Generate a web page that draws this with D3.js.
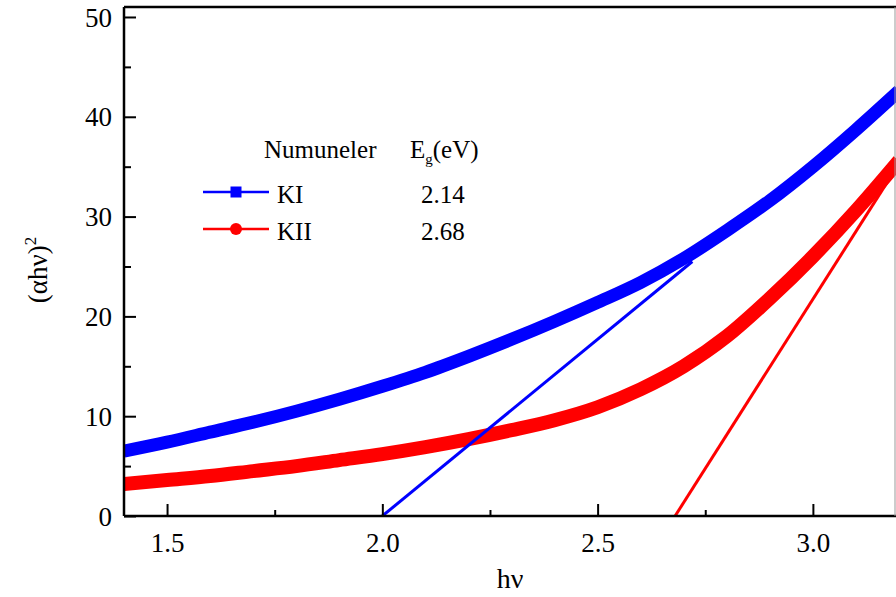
<!DOCTYPE html>
<html>
<head>
<meta charset="utf-8">
<script src="https://cdn.jsdelivr.net/npm/d3@7"></script>
<style>
  html, body { margin: 0; padding: 0; background: #fff; }
  svg { display: block; }
  svg text { font-family: "Liberation Serif", "Tinos", "DejaVu Serif", serif !important; fill: #000; }
</style>
</head>
<body>
<svg id="chart" width="896" height="597"></svg>
<script>
// ---- data ----
const hv = [1.40, 1.50, 1.60, 1.70, 1.80, 1.90, 2.00, 2.10, 2.20, 2.30, 2.40, 2.50, 2.60, 2.70, 2.80, 2.90, 3.00, 3.10, 3.20];
const kiValues  = [6.5, 7.4, 8.4, 9.4, 10.5, 11.7, 13.0, 14.4, 16.0, 17.7, 19.5, 21.4, 23.4, 25.8, 28.6, 31.6, 35.0, 38.7, 42.6];
const kiiValues = [3.2, 3.6, 4.0, 4.5, 5.0, 5.6, 6.2, 6.9, 7.7, 8.6, 9.6, 10.9, 12.7, 15.0, 18.0, 21.8, 26.0, 30.6, 35.6];
const kiFitX = [2.00, 2.72];
const kiFitY = [0, 25.5];
const kiiFitX = [2.68, 3.20];
const kiiFitY = [0, 35.3];
const seriesNames = ["KI", "KII"];
const bandGaps = ["2.14", "2.68"];
const xTicks = [1.5, 2.0, 2.5, 3.0];
const xMinorTicks = [1.75, 2.25, 2.75];
const yTicks = [0, 10, 20, 30, 40, 50];
const yMinorTicks = [5, 15, 25, 35, 45];

// ---- layout ----
const svg = d3.select("#chart");
const pL = 124, pR = 899, pT = 7, pB = 516;
const x = d3.scaleLinear().domain([1.4, 3.2]).range([pL, pR]);
const y = d3.scaleLinear().domain([0, 51]).range([pB, pT]);
const blue = "#0000ff", red = "#ff0000";
const FF = '"Liberation Serif", "Tinos", "DejaVu Serif", serif';

svg.append("defs").append("clipPath").attr("id", "clip")
  .append("rect").attr("x", pL).attr("y", pT).attr("width", pR - pL).attr("height", pB - pT);

const plot = svg.append("g").attr("clip-path", "url(#clip)");
const line = d3.line().x(d => x(d[0])).y(d => y(d[1])).curve(d3.curveMonotoneX);
const straight = d3.line().x(d => x(d[0])).y(d => y(d[1]));

// data bands
plot.append("path").datum(hv.map((h, i) => [h, kiiValues[i]]))
  .attr("d", line).attr("fill", "none").attr("stroke", red).attr("stroke-width", 14);
plot.append("path").datum(hv.map((h, i) => [h, kiValues[i]]))
  .attr("d", line).attr("fill", "none").attr("stroke", blue).attr("stroke-width", 13);

// tangent fits
plot.append("path").datum(kiFitX.map((h, i) => [h, kiFitY[i]]))
  .attr("d", straight).attr("fill", "none").attr("stroke", blue).attr("stroke-width", 3);
plot.append("path").datum(kiiFitX.map((h, i) => [h, kiiFitY[i]]))
  .attr("d", straight).attr("fill", "none").attr("stroke", red).attr("stroke-width", 3);

// axes
const gx = svg.append("g").attr("transform", `translate(0,${pB})`)
  .call(d3.axisBottom(x).tickValues(xTicks).tickSize(-12).tickFormat(d3.format(".1f")));
const gxMinor = svg.append("g").attr("transform", `translate(0,${pB})`)
  .call(d3.axisBottom(x).tickValues(xMinorTicks).tickSize(-6).tickFormat(""));
const gy = svg.append("g").attr("transform", `translate(${pL},0)`)
  .call(d3.axisLeft(y).tickValues(yTicks).tickSize(-12).tickFormat(d3.format("d")));
const gyMinor = svg.append("g").attr("transform", `translate(${pL},0)`)
  .call(d3.axisLeft(y).tickValues(yMinorTicks).tickSize(-7).tickFormat(""));

[gx, gxMinor, gy, gyMinor].forEach(g => {
  g.attr("font-family", FF);
  g.select(".domain").remove();
  g.selectAll(".tick line").attr("stroke", "#000").attr("stroke-width", 2);
});
gx.selectAll(".tick text").attr("font-size", 27).style("font-family", FF)
  .attr("y", 36).attr("dy", 0);
gy.selectAll(".tick text").attr("font-size", 27).style("font-family", FF)
  .attr("x", -12).attr("dy", "0.34em");

// frame lines
svg.append("line").attr("x1", pL).attr("x2", pR).attr("y1", pB).attr("y2", pB)
  .attr("stroke", "#000").attr("stroke-width", 2.5);
svg.append("line").attr("x1", pL).attr("x2", pL).attr("y1", pT).attr("y2", pB)
  .attr("stroke", "#000").attr("stroke-width", 2.5);
svg.append("line").attr("x1", pL).attr("x2", pR).attr("y1", pT).attr("y2", pT)
  .attr("stroke", "#000").attr("stroke-width", 2.5);
svg.append("line").attr("x1", 895).attr("x2", 895).attr("y1", pT).attr("y2", pB)
  .attr("stroke", "#999").attr("stroke-width", 1);

// axis titles
svg.append("text").attr("x", (pL + 896) / 2).attr("y", 588).attr("text-anchor", "middle")
  .style("font-family", FF).attr("font-size", 28).text("hν");
const yt = svg.append("text").attr("transform", `translate(47,270) rotate(-90)`)
  .attr("text-anchor", "middle").style("font-family", FF).attr("font-size", 27);
yt.append("tspan").text("(αhν)");
yt.append("tspan").attr("font-size", 17).attr("dy", -11).text("2");

// legend
const lg = svg.append("g");
lg.append("text").attr("x", 264).attr("y", 158).style("font-family", FF).attr("font-size", 25).text("Numuneler");
const eg = lg.append("text").attr("x", 410).attr("y", 158).style("font-family", FF).attr("font-size", 25);
eg.append("tspan").text("E");
eg.append("tspan").attr("font-size", 15).attr("dy", 6).text("g");
eg.append("tspan").attr("dy", -6).text("(eV)");

const legendRows = [
  { name: seriesNames[0], eg: bandGaps[0], color: blue, shape: "square", ly: 192 },
  { name: seriesNames[1], eg: bandGaps[1], color: red, shape: "circle", ly: 229 }
];
legendRows.forEach(r => {
  lg.append("line").attr("x1", 203).attr("x2", 269).attr("y1", r.ly).attr("y2", r.ly)
    .attr("stroke", r.color).attr("stroke-width", 2.5);
  if (r.shape === "square") {
    lg.append("rect").attr("x", 236 - 5.5).attr("y", r.ly - 5.5).attr("width", 11).attr("height", 11).attr("fill", r.color);
  } else {
    lg.append("circle").attr("cx", 236).attr("cy", r.ly).attr("r", 6).attr("fill", r.color);
  }
  lg.append("text").attr("x", 277).attr("y", r.ly + 11).style("font-family", FF).attr("font-size", 25).text(r.name);
  lg.append("text").attr("x", 421).attr("y", r.ly + 11).style("font-family", FF).attr("font-size", 25).text(r.eg);
});
</script>
</body>
</html>
